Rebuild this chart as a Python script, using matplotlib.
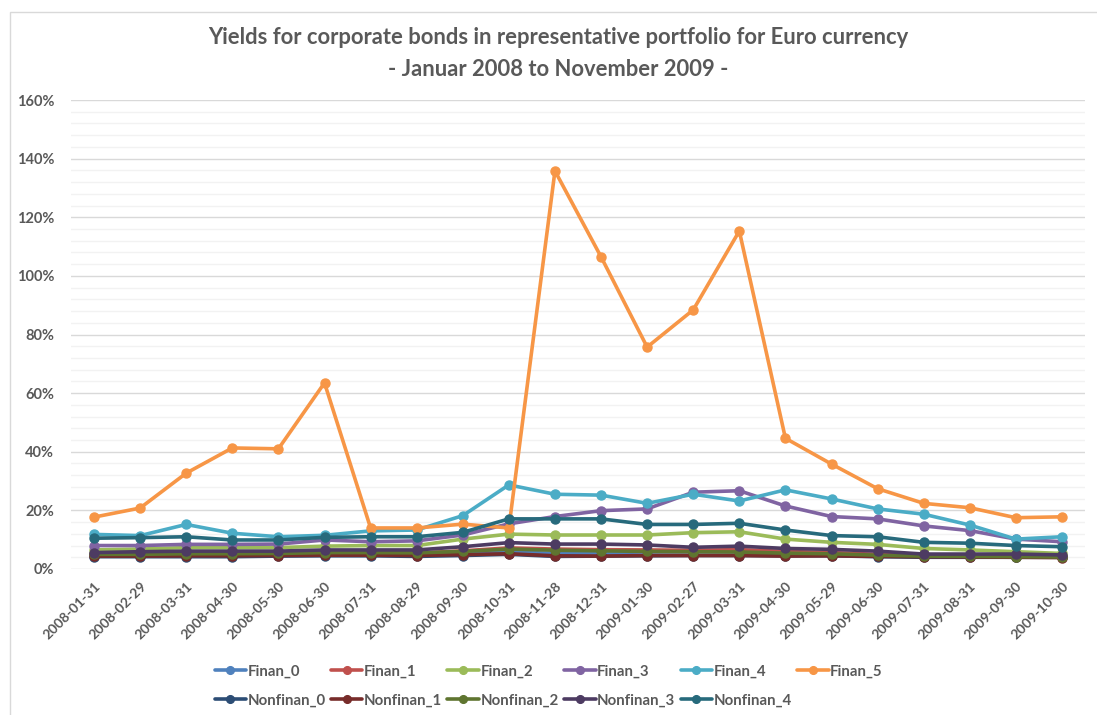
import numpy as np
import matplotlib
matplotlib.use("Agg")
import matplotlib.pyplot as plt
from matplotlib.patches import Rectangle
from matplotlib.ticker import MultipleLocator, FuncFormatter

plt.rcParams['font.family'] = ['Lato', 'DejaVu Sans']

dates = ["2008-01-31", "2008-02-29", "2008-03-31", "2008-04-30", "2008-05-30",
         "2008-06-30", "2008-07-31", "2008-08-29", "2008-09-30", "2008-10-31",
         "2008-11-28", "2008-12-31", "2009-01-30", "2009-02-27", "2009-03-31",
         "2009-04-30", "2009-05-29", "2009-06-30", "2009-07-31", "2009-08-31",
         "2009-09-30", "2009-10-30"]

# yields in percent
finan_0 = [4.6, 4.6, 4.7, 4.7, 4.8, 4.9, 5.0, 4.9, 5.3, 5.9, 5.3, 5.6, 5.8, 5.9, 5.9, 5.5, 5.2, 4.8, 4.4, 4.3, 4.2, 4.2]
finan_1 = [5.0, 5.0, 5.1, 5.1, 5.2, 5.4, 5.5, 5.4, 6.2, 7.2, 6.8, 6.6, 6.5, 6.4, 6.6, 6.0, 5.6, 5.0, 4.7, 4.6, 4.4, 4.3]
finan_2 = [6.5, 6.8, 7.3, 7.3, 7.3, 7.8, 8.0, 8.0, 10.2, 11.9, 11.6, 11.6, 11.6, 12.4, 12.7, 10.2, 9.1, 8.4, 7.0, 6.5, 5.9, 5.3]
finan_3 = [8.0, 8.0, 8.4, 8.4, 8.5, 9.9, 9.3, 9.6, 11.6, 15.4, 17.9, 19.9, 20.5, 26.2, 26.7, 21.5, 17.9, 17.1, 14.7, 13.1, 10.2, 9.3]
finan_4 = [11.8, 11.4, 15.2, 12.2, 11.0, 11.5, 13.0, 13.3, 18.2, 28.7, 25.5, 25.2, 22.4, 25.5, 23.2, 27.0, 23.9, 20.5, 18.7, 15.0, 10.2, 11.0]
finan_5 = [17.7, 20.8, 32.7, 41.3, 41.0, 63.5, 14.0, 14.0, 15.3, 14.0, 135.8, 106.5, 75.7, 88.4, 115.3, 44.6, 35.8, 27.4, 22.4, 20.9, 17.5, 17.8]
nonfinan_0 = [4.2, 4.2, 4.2, 4.2, 4.4, 4.5, 4.5, 4.3, 4.6, 5.0, 4.3, 4.4, 4.5, 4.6, 4.6, 4.5, 4.5, 4.2, 4.0, 4.0, 4.0, 4.0]
nonfinan_1 = [4.4, 4.4, 4.5, 4.5, 4.6, 4.7, 4.7, 4.6, 4.9, 5.2, 4.5, 4.4, 4.6, 4.6, 4.6, 4.4, 4.5, 4.3, 4.2, 4.1, 4.0, 3.9]
nonfinan_2 = [5.0, 5.0, 5.2, 5.2, 5.3, 5.6, 5.6, 5.5, 6.0, 6.8, 6.4, 6.2, 6.0, 5.9, 5.8, 5.4, 5.2, 4.7, 4.4, 4.3, 4.2, 4.1]
nonfinan_3 = [5.6, 5.9, 6.1, 6.1, 6.1, 6.5, 6.5, 6.5, 7.6, 9.0, 8.5, 8.5, 8.2, 7.4, 7.8, 7.0, 6.7, 6.1, 5.1, 5.1, 5.1, 4.8]
nonfinan_4 = [10.5, 10.7, 11.0, 9.9, 9.9, 10.8, 11.0, 11.0, 12.5, 17.1, 17.1, 17.1, 15.2, 15.2, 15.6, 13.3, 11.4, 11.0, 9.1, 8.8, 8.0, 7.6]

series = [("Finan_0", finan_0, "#4F81BD"),
          ("Finan_1", finan_1, "#C0504D"),
          ("Finan_2", finan_2, "#9BBB59"),
          ("Finan_3", finan_3, "#8064A2"),
          ("Finan_4", finan_4, "#4BACC6"),
          ("Finan_5", finan_5, "#F79646"),
          ("Nonfinan_0", nonfinan_0, "#2C4D75"),
          ("Nonfinan_1", nonfinan_1, "#772C2A"),
          ("Nonfinan_2", nonfinan_2, "#5F7530"),
          ("Nonfinan_3", nonfinan_3, "#4D3B62"),
          ("Nonfinan_4", nonfinan_4, "#276A7C")]

txt = "#595959"
W, H = 1097, 715
fig = plt.figure(figsize=(W / 100, H / 100), dpi=100)
fig.patches.append(Rectangle((10 / W, -0.1), 1.2, 1 - 12 / H + 0.1, transform=fig.transFigure,
                             facecolor="none", edgecolor="#D9D9D9", lw=1, zorder=-5))

ax = fig.add_axes([71 / W, 1 - 569 / H, (1085 - 71) / W, (569 - 100) / H])
ax.set_facecolor("none")
x = np.arange(len(dates))
handles = {}
for name, vals, col in series:
    h, = ax.plot(x, vals, color=col, lw=2.6, marker="o", ms=6.5, label=name,
                 solid_capstyle="round", zorder=3)
    handles[name] = h

ax.set_xlim(-0.5, len(dates) - 0.5)
ax.set_ylim(0, 160)
ax.yaxis.set_major_locator(MultipleLocator(20))
ax.yaxis.set_minor_locator(MultipleLocator(4))
ax.yaxis.set_major_formatter(FuncFormatter(lambda v, p: "%d%%" % v))
ax.grid(which="major", axis="y", color="#D9D9D9", lw=1, zorder=0)
ax.grid(which="minor", axis="y", color="#F2F2F2", lw=1, zorder=0)
for s in ax.spines.values():
    s.set_visible(False)
ax.tick_params(axis="both", which="both", length=0)
ax.tick_params(axis="y", pad=12, labelsize=10.5, labelcolor=txt)
ax.set_xticks(x)
ax.set_xticklabels(dates, rotation=45, ha="right", rotation_mode="anchor",
                   fontsize=10, color=txt, fontweight="bold")
ax.tick_params(axis="x", pad=8)
for lab in ax.get_yticklabels():
    lab.set_fontweight("bold")

fig.text(558 / W, 1 - 38 / H, "Yields for corporate bonds in representative portfolio for Euro currency",
         ha="center", va="center", fontsize=15.8, fontweight="bold", color=txt)
fig.text(558 / W, 1 - 70 / H, "- Januar 2008 to November 2009 -",
         ha="center", va="center", fontsize=15.8, fontweight="bold", color=txt)

order = ["Finan_0", "Nonfinan_0", "Finan_1", "Nonfinan_1", "Finan_2", "Nonfinan_2",
         "Finan_3", "Nonfinan_3", "Finan_4", "Nonfinan_4", "Finan_5"]
leg = fig.legend([handles[n] for n in order], order, ncol=6, loc="center left",
                 bbox_to_anchor=(201 / W, 1 - 686 / H), frameon=False,
                 handlelength=2.1, handletextpad=0.1, columnspacing=0.35,
                 labelspacing=1.0, markerscale=0.85,
                 prop={"size": 10.8, "weight": "bold"})
for t in leg.get_texts():
    t.set_color(txt)

fig.savefig("out.png", dpi=100)
